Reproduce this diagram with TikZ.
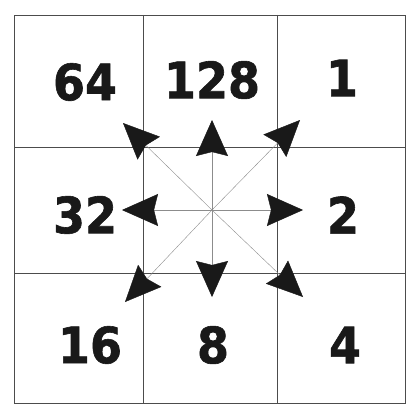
\documentclass[tikz,border=0pt]{standalone}
\usepackage{fontspec}
\setmainfont{DejaVu Sans}
\newfontfamily\numfont[FakeStretch=0.92,FakeBold=1.2]{DejaVu Sans Bold}
\usetikzlibrary{arrows.meta}
\begin{document}
\begin{tikzpicture}[x=1pt,y=-1pt,
  gridline/.style={draw=black!70,line width=0.6pt},
  num/.style={font=\numfont\fontsize{50}{50}\selectfont,text=black!90,inner sep=0pt},
  ray/.style={draw=black!45,line width=0.4pt,-{Stealth[length=36pt,width=32pt,inset=4pt,black!90]}}]
\useasboundingbox (0,0) rectangle (406,404);
% grid
\draw[gridline] (14,15) rectangle (405,403);
\draw[gridline] (143,15) -- (143,403);
\draw[gridline] (277,15) -- (277,403);
\draw[gridline] (14,147) -- (405,147);
\draw[gridline] (14,273) -- (405,273);
% numbers
\node[num] (n64)  at (85,82)   {64};
\node[num] (n128) at (212,80)  {128};
\node[num] (n1)   at (342,78)  {1};
\node[num] (n32)  at (85,215)  {32};
\node[num] (n2)   at (343,215) {2};
\node[num] (n16)  at (90,345)  {16};
\node[num] (n8)   at (213,345) {8};
\node[num] (n4)   at (345,345) {4};
% arrows
\coordinate (c)  at (212,210);
\coordinate (tu) at (212,120);
\coordinate (td) at (212,297);
\coordinate (tl) at (122,210);
\coordinate (tr) at (303,210);
\coordinate (tul) at (123,123);
\coordinate (tur) at (300,120);
\coordinate (tdl) at (125,302);
\coordinate (tdr) at (303,297);
\foreach \t in {tu,td,tl,tr,tul,tur,tdl,tdr}
  \draw[ray] (c) -- (\t);
\end{tikzpicture}
\end{document}
